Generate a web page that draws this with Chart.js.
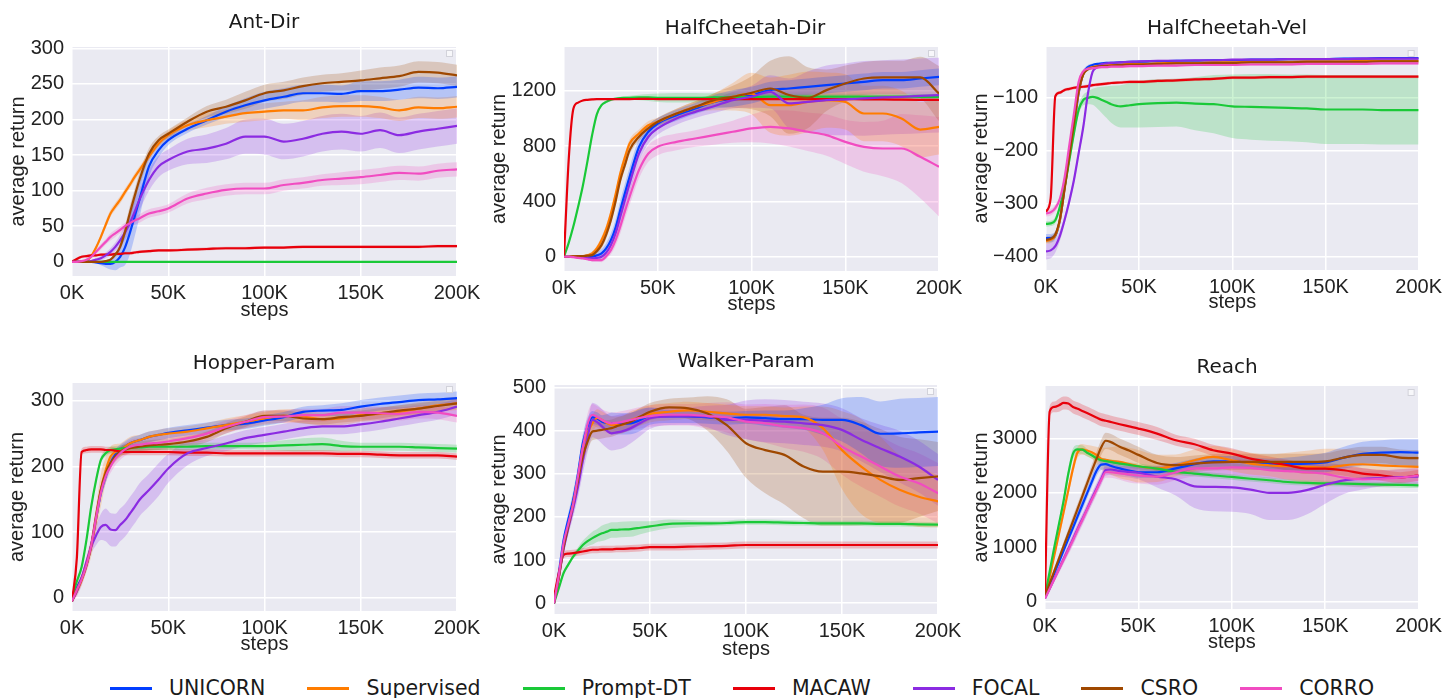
<!DOCTYPE html>
<html><head><meta charset="utf-8">
<script src="https://cdn.jsdelivr.net/npm/chart.js@4.4.1/dist/chart.umd.min.js"></script>
<style>
html,body{margin:0;padding:0;background:#fff;}
#wrap{position:relative;width:1447px;height:698px;overflow:hidden;background:#fff;}
#wrap canvas{position:absolute;}
.ttl{position:absolute;font-family:"DejaVu Sans";font-size:20px;line-height:24px;color:#1a1a1a;white-space:nowrap;transform:translateX(-50%);}
#legend{position:absolute;left:110px;top:676px;height:24px;display:flex;align-items:center;font-family:"DejaVu Sans";font-size:20.5px;color:#1a1a1a;white-space:nowrap;}
.li{display:flex;align-items:center;margin-right:42px;}
.ln{width:42px;height:3px;margin-right:17px;}
</style></head><body><div id="wrap"><div id="legend"></div></div>
<script>
// ---------- shared axes / series ----------
const STEPS = [0,2.5,5,7.5,10,12.5,15,17.5,20,22.5,25,27.5,30,32.5,35,40,45,50,60,70,80,90,100,110,120,130,140,150,160,170,180,190,200]; // thousands of steps
const X_TICKS = [0,50,100,150,200];
const SERIES = ['UNICORN','Supervised','Prompt-DT','MACAW','FOCAL','CSRO','CORRO'];
const COLORS = ['#023eff','#ff7c00','#1ac938','#e8000b','#8b2be2','#9f4800','#f14cc1'];

// ---------- Ant-Dir ----------
const antTicks = [0,50,100,150,200,250,300];
const antUNICORN = [0,0,0,0,0,-1,-2,-3,-3,0,7,20,40,63,87,134,157,171,187,199,211,220,227,232,237,237,236,240,240,242,245,244,246];
const antUNICORNsd = [0,0,0,0,0,1,3,5,8,12,15,25,30,28,25,15,10,7,6,6,8,10,12,12,12,12,12,14,14,14,15,15,15];
const antSupervised = [0,0,0,1,8,20,35,52,68,78,87,98,108,119,129,148,166,178,192,199,204,209,211,213,213,217,219,219,217,213,217,216,218];
const antSupervisedsd = [0,0,0,1,2,3,4,5,5,5,5,5,5,5,5,5,5,6,8,10,10,12,12,12,14,15,15,15,15,15,15,15,15];
const antPromptDT = [0,0,0,0,0,0,0,0,0,0,0,0,0,0,0,0,0,0,0,0,0,0,0,0,0,0,0,0,0,0,0,0,0];
const antPromptDTsd = [0,0,0,0,0,0,0,0,0,0,0,0,0,0,0,0,0,0,0,0,0,0,0,0,0,0,0,0,0,0,0,0,0];
const antMACAW = [0,4,7,8,9,9,10,10,10,11,11,12,12,13,14,15,16,16,17,18,19,19,20,20,21,21,21,21,21,21,21,22,22];
const antMACAWsd = [0,2,2,2,2,2,2,2,2,2,2,2,2,2,2,2,2,2,2,2,2,2,2,2,2,2,2,2,2,2,2,2,2];
const antFOCAL = [0,0,0,0,1,3,5,9,14,21,30,41,54,70,87,115,134,143,155,159,166,176,176,169,173,180,183,180,185,178,183,187,191];
const antFOCALsd = [0,0,0,0,1,2,3,4,5,6,8,10,12,14,15,15,15,15,18,20,22,24,25,25,25,25,25,25,25,25,25,25,25];
const antCSRO = [0,0,0,0,0,0,0,1,3,10,21,42,68,92,115,152,171,180,197,211,218,227,237,241,247,251,253,255,258,261,267,266,262];
const antCSROsd = [0,0,0,0,0,0,0,1,2,3,5,8,10,10,10,8,6,6,6,8,10,12,12,12,12,12,12,14,15,15,15,15,15];
const antCORRO = [0,0,1,3,7,14,21,28,35,40,45,50,54,58,61,68,71,75,89,96,101,103,103,108,111,115,117,119,122,125,124,128,130];
const antCORROsd = [0,0,1,1,2,3,4,4,5,5,5,5,5,6,6,6,6,6,7,8,8,8,8,8,8,8,9,10,10,10,10,10,10];

// ---------- HalfCheetah-Dir ----------
const hcdTicks = [0,400,800,1200];
const hcdUNICORN = [0,0,0,0,-5,-5,0,10,24,60,120,210,337,460,578,795,904,964,1024,1072,1120,1145,1169,1205,1217,1229,1241,1253,1265,1277,1277,1289,1301];
const hcdUNICORNsd = [0,0,0,0,10,15,20,25,30,40,50,60,70,70,70,60,50,40,40,40,50,60,60,60,60,60,60,60,60,60,60,60,60];
const hcdSupervised = [0,0,5,5,5,10,24,60,120,200,313,450,602,720,819,891,951,976,1036,1084,1120,1157,1180,1096,1096,1120,1133,1120,1036,1036,1000,920,940];
const hcdSupervisedsd = [0,0,0,0,5,10,15,20,25,30,30,30,30,30,30,30,30,30,35,40,60,100,150,200,220,220,200,200,200,200,200,200,200];
const hcdPromptDT = [0,100,220,360,510,690,880,1030,1096,1120,1135,1143,1148,1149,1150,1152,1152,1150,1150,1150,1152,1155,1155,1158,1158,1158,1158,1158,1158,1158,1158,1157,1157];
const hcdPromptDTsd = [0,10,15,20,20,20,20,15,10,10,10,10,10,12,15,20,25,30,35,35,30,25,25,20,20,20,20,20,20,20,20,20,20];
const hcdMACAW = [0,700,1070,1115,1130,1135,1138,1140,1140,1140,1140,1140,1140,1140,1140,1142,1142,1140,1140,1140,1140,1140,1140,1140,1140,1140,1140,1140,1138,1138,1136,1135,1135];
const hcdMACAWsd = [0,6,6,6,6,6,6,6,6,6,6,6,6,6,6,6,6,6,6,6,6,6,6,6,6,6,6,6,6,6,6,6,6];
const hcdFOCAL = [0,0,0,-2,-5,-10,-12,-8,0,30,84,170,289,410,530,747,868,928,1000,1048,1089,1133,1157,1193,1109,1120,1133,1138,1145,1152,1157,1164,1169];
const hcdFOCALsd = [0,0,0,5,10,15,20,25,30,40,50,60,70,70,70,60,50,45,45,45,50,60,80,120,180,220,250,260,270,270,270,270,270];
const hcdCSRO = [0,0,3,5,5,8,12,40,84,160,265,400,554,665,771,868,928,976,1036,1084,1133,1157,1186,1217,1170,1150,1205,1253,1289,1297,1297,1297,1180];
const hcdCSROsd = [0,0,0,0,5,10,15,20,25,30,30,30,30,30,30,30,30,30,35,40,50,80,120,200,280,220,150,130,120,120,120,150,200];
const hcdCORRO = [0,0,-3,-8,-12,-18,-24,-25,-24,5,48,120,217,330,434,627,747,795,831,855,880,904,928,940,928,904,880,831,795,783,783,723,651];
const hcdCORROsd = [0,0,0,5,5,5,10,10,15,20,30,40,50,55,60,60,60,60,60,60,70,80,100,120,130,140,150,160,180,200,250,300,360];

// ---------- HalfCheetah-Vel ----------
const hcvTicks = [-400,-300,-200,-100];
const hcvUNICORN = [-365,-365,-360,-330,-268,-205,-155,-92,-54,-42,-38,-36,-35,-34,-34,-33,-32,-32,-31,-30,-30,-29,-29,-28,-28,-27,-27,-27,-26,-26,-25,-25,-25];
const hcvUNICORNsd = [8,8,8,8,8,8,8,6,5,4,3,2,2,2,2,2,2,2,2,2,2,2,2,2,2,2,2,2,2,2,2,2,2];
const hcvSupervised = [-370,-368,-360,-330,-270,-210,-150,-90,-55,-45,-42,-40,-39,-38,-38,-37,-36,-36,-35,-34,-34,-33,-33,-32,-32,-32,-31,-31,-31,-30,-30,-30,-30];
const hcvSupervisedsd = [6,6,6,6,6,6,6,5,4,3,3,2,2,2,2,2,2,2,2,2,2,2,2,2,2,2,2,2,2,2,2,2,2];
const hcvPromptDT = [-338,-337,-331,-305,-268,-218,-167,-123,-104,-100,-98,-100,-104,-108,-112,-116,-114,-112,-110,-109,-111,-112,-116,-117,-118,-119,-120,-122,-122,-122,-123,-123,-123];
const hcvPromptDTsd = [5,5,6,8,10,10,10,10,10,12,15,20,25,30,35,40,42,44,45,45,50,55,60,62,63,63,64,65,65,65,65,65,65];
const hcvMACAW = [-315,-290,-97,-90,-85,-83,-81,-80,-79,-78,-76,-75,-74,-73,-72,-71,-70,-70,-68,-67,-65,-64,-62,-62,-61,-61,-60,-60,-60,-60,-60,-60,-60];
const hcvMACAWsd = [3,3,3,3,3,3,3,3,3,3,3,3,3,3,3,3,3,3,3,3,3,3,3,3,3,3,3,3,3,3,3,3,3];
const hcvFOCAL = [-390,-388,-380,-360,-330,-295,-255,-205,-155,-92,-51,-42,-36,-35,-34,-33,-32,-31,-30,-30,-29,-29,-28,-28,-28,-27,-27,-27,-27,-26,-26,-26,-26];
const hcvFOCALsd = [15,15,12,10,8,8,8,8,8,6,4,3,2,2,2,2,2,2,2,2,2,2,2,2,2,2,2,2,2,2,2,2,2];
const hcvCSRO = [-368,-366,-358,-328,-272,-210,-148,-88,-56,-46,-43,-41,-40,-40,-39,-38,-37,-37,-36,-35,-35,-34,-34,-33,-33,-33,-32,-32,-32,-32,-31,-31,-31];
const hcvCSROsd = [6,6,6,6,6,6,6,5,4,3,3,2,2,2,2,2,2,2,2,2,2,2,2,2,2,2,2,2,2,2,2,2,2];
const hcvCORRO = [-318,-316,-308,-290,-250,-190,-130,-70,-50,-45,-44,-43,-42,-42,-41,-41,-40,-40,-39,-39,-38,-38,-38,-37,-37,-37,-36,-36,-36,-36,-35,-35,-35];
const hcvCORROsd = [6,6,6,6,6,6,6,5,4,3,3,2,2,2,2,2,2,2,2,2,2,2,2,2,2,2,2,2,2,2,2,2,2];

// ---------- Hopper-Param ----------
const hopTicks = [0,100,200,300];
const hopUNICORN = [-5,15,30,50,80,120,160,185,205,218,225,230,235,238,240,245,248,251,255,259,263,265,270,275,283,285,286,291,295,298,301,302,304];
const hopUNICORNsd = [0,3,5,8,10,10,10,10,8,8,8,8,8,8,8,8,8,8,8,8,8,8,8,8,8,8,10,10,10,10,10,10,10];
const hopSupervised = [-5,10,27,50,78,120,164,194,215,222,225,230,235,238,240,245,248,250,253,258,263,268,273,277,276,272,273,278,280,283,288,293,296];
const hopSupervisedsd = [0,3,5,10,15,20,25,20,15,12,10,10,10,9,8,8,8,8,8,8,10,10,10,10,10,10,10,10,10,10,10,10,10];
const hopPromptDT = [0,25,47,88,139,179,210,220,225,226,227,228,229,229,229,230,230,230,230,231,231,231,231,232,233,234,231,230,230,230,229,228,227];
const hopPromptDTsd = [0,3,5,5,5,5,5,5,5,5,5,5,5,5,5,5,5,5,5,5,5,5,6,8,10,10,8,6,6,6,6,6,6];
const hopMACAW = [-5,60,222,225,226,226,226,225,225,224,223,222,222,222,222,222,222,222,221,221,220,220,220,220,220,220,219,219,218,217,217,217,215];
const hopMACAWsd = [0,5,5,5,5,5,5,5,5,5,5,5,5,5,5,5,5,5,5,5,5,5,5,5,5,5,5,5,5,5,5,5,5];
const hopFOCAL = [-5,10,30,55,78,95,108,111,104,103,111,118,128,138,149,164,180,197,220,228,235,243,248,253,258,261,261,264,268,273,278,283,291];
const hopFOCALsd = [0,3,5,8,10,15,20,25,25,25,25,25,25,25,25,25,25,22,18,12,12,12,12,12,12,12,12,12,12,12,12,12,12];
const hopCSRO = [-5,12,28,50,80,125,165,190,205,215,222,226,228,229,230,232,233,234,238,245,258,268,277,277,273,272,275,277,281,285,288,292,296];
const hopCSROsd = [0,8,8,8,8,8,8,8,8,8,8,8,8,8,8,8,8,8,8,8,8,8,8,8,8,8,8,8,8,8,8,8,8];
const hopCORRO = [-5,12,28,50,80,122,160,185,200,212,220,226,230,232,233,235,236,238,243,250,260,268,275,276,278,278,282,282,281,280,283,282,277];
const hopCORROsd = [0,10,10,10,10,10,10,10,10,10,10,10,10,10,10,10,10,10,10,10,10,10,10,10,10,10,10,10,10,10,10,10,10];

// ---------- Walker-Param ----------
const wlkTicks = [0,100,200,300,400,500];
const wlkUNICORN = [0,70,147,195,240,300,371,410,431,428,421,418,417,416,416,417,425,434,433,433,431,429,431,429,427,427,425,425,413,393,394,396,398];
const wlkUNICORNsd = [0,5,10,15,20,20,20,20,15,15,15,20,25,25,25,25,25,20,15,15,15,15,15,18,20,25,35,50,65,75,80,80,80];
const wlkSupervised = [0,60,130,180,230,290,360,395,417,430,425,418,413,413,413,425,432,439,444,447,444,440,437,437,434,431,406,355,317,286,263,247,236];
const wlkSupervisedsd = [0,5,10,15,20,20,20,20,20,20,20,20,20,20,20,20,20,20,20,20,20,20,20,20,20,25,50,90,110,100,80,70,60];
const wlkPromptDT = [0,35,70,90,108,122,135,144,151,157,162,166,170,170,171,172,175,178,184,185,185,186,188,188,187,186,185,185,185,184,184,183,182];
const wlkPromptDTsd = [0,3,5,5,5,8,10,12,15,15,18,18,18,18,18,18,15,12,10,8,6,6,6,6,6,6,6,6,6,6,6,6,6];
const wlkMACAW = [15,70,112,115,116,118,120,122,124,124,125,125,125,126,126,127,128,130,130,131,132,133,135,135,135,135,135,135,135,135,135,135,135];
const wlkMACAWsd = [3,5,8,8,8,8,8,8,8,8,8,8,8,8,8,8,8,8,8,8,8,8,8,8,8,8,8,8,8,8,8,8,8];
const wlkFOCAL = [0,60,125,175,220,270,330,385,425,420,410,400,394,396,398,406,418,429,433,434,433,425,425,423,421,417,413,402,379,359,340,317,286];
const wlkFOCALsd = [0,5,10,15,20,25,30,35,40,40,40,40,40,40,40,35,30,25,20,20,25,35,45,50,50,50,50,50,50,55,60,60,60];
const wlkCSRO = [0,60,130,180,230,285,340,375,398,400,402,404,406,410,414,421,433,444,454,452,440,413,371,355,344,317,305,305,301,294,286,290,294];
const wlkCSROsd = [0,5,10,15,20,20,20,20,20,20,20,20,20,20,20,20,20,20,20,25,40,60,80,100,115,120,125,125,120,110,100,90,80];
const wlkCORRO = [0,65,140,185,230,295,360,415,437,432,425,420,417,418,420,425,430,434,437,437,434,431,421,417,410,406,394,363,340,317,294,278,255];
const wlkCORROsd = [0,5,10,15,20,20,20,25,25,25,25,25,25,25,25,25,25,25,25,25,30,35,40,45,50,55,60,65,70,70,70,70,70];

// ---------- Reach ----------
const rchTicks = [0,1000,2000,3000];
const rchUNICORN = [100,310,520,730,940,1150,1360,1570,1780,1990,2200,2400,2520,2530,2500,2450,2410,2380,2380,2450,2530,2580,2580,2550,2530,2530,2540,2560,2650,2720,2740,2750,2740];
const rchUNICORNsd = [0,50,50,60,60,70,80,90,100,100,100,100,100,100,100,100,100,100,100,100,100,100,100,100,100,120,150,180,200,220,230,240,250];
const rchSupervised = [100,450,850,1250,1650,2050,2450,2750,2800,2780,2750,2700,2630,2610,2590,2570,2530,2490,2450,2508,2600,2662,2600,2539,2508,2490,2478,2465,2508,2527,2508,2490,2478];
const rchSupervisedsd = [0,50,60,80,100,100,100,100,100,100,120,150,200,220,250,300,300,300,250,200,200,200,200,200,200,250,300,350,300,250,200,200,200];
const rchPromptDT = [100,550,1000,1430,1860,2355,2724,2800,2797,2740,2693,2640,2600,2585,2570,2539,2515,2490,2447,2385,2355,2320,2293,2260,2232,2200,2183,2175,2170,2160,2152,2145,2139];
const rchPromptDTsd = [0,50,60,80,100,100,100,80,80,70,60,50,50,50,50,50,50,50,50,50,50,50,50,50,50,50,50,50,50,50,50,50,50];
const rchMACAW = [100,3500,3584,3615,3658,3646,3584,3550,3510,3470,3430,3390,3350,3330,3308,3265,3225,3185,3092,2969,2896,2785,2724,2631,2570,2508,2447,2447,2416,2355,2324,2281,2324];
const rchMACAWsd = [0,100,100,120,120,120,120,120,120,120,120,120,120,120,120,120,120,120,120,100,100,100,100,100,100,100,100,100,100,100,100,100,100];
const rchFOCAL = [50,235,420,600,785,970,1150,1340,1520,1700,1890,2070,2250,2420,2430,2400,2385,2370,2300,2250,2120,2110,2100,2060,2000,2000,2050,2150,2230,2260,2270,2290,2300];
const rchFOCALsd = [0,50,60,70,80,90,100,100,100,100,100,100,100,100,100,100,100,120,200,300,400,450,450,450,500,500,450,350,250,200,150,150,150];
const rchCSRO = [100,330,560,790,1020,1250,1480,1710,1940,2170,2400,2620,2830,2960,2940,2850,2780,2700,2550,2510,2540,2560,2570,2570,2570,2570,2570,2580,2650,2700,2700,2650,2640];
const rchCSROsd = [0,50,60,70,80,90,100,100,100,100,120,130,140,150,150,150,150,150,150,150,150,150,150,150,150,150,150,150,150,150,150,150,150];
const rchCORRO = [50,230,410,590,770,950,1130,1320,1500,1690,1870,2050,2230,2380,2380,2360,2340,2320,2300,2380,2450,2450,2470,2460,2420,2400,2380,2350,2280,2250,2260,2280,2320];
const rchCORROsd = [0,50,60,70,80,90,100,100,100,100,100,100,100,100,100,120,150,150,150,150,150,150,150,150,150,150,150,150,150,150,150,150,150];

// ---------- panel layout ----------
const PANELS = [
  {title:'Ant-Dir', ticks:antTicks, yMin:-20, yMax:302,
   means:[antUNICORN,antSupervised,antPromptDT,antMACAW,antFOCAL,antCSRO,antCORRO],
   sds:[antUNICORNsd,antSupervisedsd,antPromptDTsd,antMACAWsd,antFOCALsd,antCSROsd,antCORROsd],
   cl:0, ct:20, L:72, R:457, T:47, B:276, padR:30, titleX:264, titleY:20.5, yTitleX:18, xTitleY:310.5},
  {title:'HalfCheetah-Dir', ticks:hcdTicks, yMin:-103, yMax:1517,
   means:[hcdUNICORN,hcdSupervised,hcdPromptDT,hcdMACAW,hcdFOCAL,hcdCSRO,hcdCORRO],
   sds:[hcdUNICORNsd,hcdSupervisedsd,hcdPromptDTsd,hcdMACAWsd,hcdFOCALsd,hcdCSROsd,hcdCORROsd],
   cl:480, ct:20, L:564, R:939, T:47, B:271, padR:30, titleX:745, titleY:27, yTitleX:499, xTitleY:304},
  {title:'HalfCheetah-Vel', ticks:hcvTicks, yMin:-425, yMax:-4,
   means:[hcvUNICORN,hcvSupervised,hcvPromptDT,hcvMACAW,hcvFOCAL,hcvCSRO,hcvCORRO],
   sds:[hcvUNICORNsd,hcvSupervisedsd,hcvPromptDTsd,hcvMACAWsd,hcvFOCALsd,hcvCSROsd,hcvCORROsd],
   cl:960, ct:20, L:1046, R:1420, T:47, B:270, padR:27, titleX:1227, titleY:27, yTitleX:981, xTitleY:302.5},
  {title:'Hopper-Param', ticks:hopTicks, yMin:-20, yMax:327,
   means:[hopUNICORN,hopSupervised,hopPromptDT,hopMACAW,hopFOCAL,hopCSRO,hopCORRO],
   sds:[hopUNICORNsd,hopSupervisedsd,hopPromptDTsd,hopMACAWsd,hopFOCALsd,hopCSROsd,hopCORROsd],
   cl:0, ct:340, L:72, R:457, T:383, B:611, padR:30, titleX:264, titleY:362, yTitleX:17, xTitleY:644},
  {title:'Walker-Param', ticks:wlkTicks, yMin:-25, yMax:506,
   means:[wlkUNICORN,wlkSupervised,wlkPromptDT,wlkMACAW,wlkFOCAL,wlkCSRO,wlkCORRO],
   sds:[wlkUNICORNsd,wlkSupervisedsd,wlkPromptDTsd,wlkMACAWsd,wlkFOCALsd,wlkCSROsd,wlkCORROsd],
   cl:480, ct:340, L:554, R:938, T:385, B:614, padR:30, titleX:746, titleY:359.7, yTitleX:499, xTitleY:649},
  {title:'Reach', ticks:rchTicks, yMin:-142, yMax:3970,
   means:[rchUNICORN,rchSupervised,rchPromptDT,rchMACAW,rchFOCAL,rchCSRO,rchCORRO],
   sds:[rchUNICORNsd,rchSupervisedsd,rchPromptDTsd,rchMACAWsd,rchFOCALsd,rchCSROsd,rchCORROsd],
   cl:960, ct:340, L:1045, R:1420, T:386, B:609, padR:27, titleX:1227, titleY:365.5, yTitleX:981, xTitleY:642.5}
];

function rgba(hex, a){
  const n = parseInt(hex.slice(1),16);
  return 'rgba('+((n>>16)&255)+','+((n>>8)&255)+','+(n&255)+','+a+')';
}
function fmt(v){ return v < 0 ? '\u2212' + Math.abs(v) : String(v); }

const bgPlugin = {
  id:'plotbg',
  beforeDraw(chart){
    const a = chart.chartArea, ctx = chart.ctx;
    ctx.save(); ctx.fillStyle = '#eaeaf2';
    ctx.fillRect(a.left, a.top, a.right - a.left, a.bottom - a.top);
    ctx.restore();
  },
  afterDraw(chart){
    const a = chart.chartArea, ctx = chart.ctx;
    ctx.save(); ctx.fillStyle = 'rgba(255,255,255,0.6)'; ctx.strokeStyle = '#d2d2da'; ctx.lineWidth = 1;
    ctx.fillRect(a.right - 10.5, a.top + 3.5, 6, 6);
    ctx.strokeRect(a.right - 10.5, a.top + 3.5, 6, 6);
    ctx.restore();
  }
};

const wrap = document.getElementById('wrap');
const TICK_FONT = {family:'"Liberation Sans", Arial, sans-serif', size:20};

PANELS.forEach(p => {
  const bottom = Math.ceil(p.xTitleY + 16);
  const width = p.R + p.padR - p.cl;
  const height = bottom - p.ct;
  const cv = document.createElement('canvas');
  cv.width = width; cv.height = height;
  cv.style.left = p.cl + 'px'; cv.style.top = p.ct + 'px';
  cv.style.width = width + 'px'; cv.style.height = height + 'px';
  wrap.appendChild(cv);

  const t = document.createElement('div');
  t.className = 'ttl'; t.textContent = p.title;
  t.style.left = p.titleX + 'px'; t.style.top = (p.titleY - 12) + 'px';
  wrap.appendChild(t);

  const ds = [];
  SERIES.forEach((name, i) => {
    const m = p.means[i], s = p.sds[i];
    ds.push({data: STEPS.map((x,k)=>({x, y:m[k]-s[k]})), borderWidth:0, borderColor:'rgba(0,0,0,0)',
             pointRadius:0, fill:false, order:100, cubicInterpolationMode:'monotone'});
    ds.push({data: STEPS.map((x,k)=>({x, y:m[k]+s[k]})), borderWidth:0, borderColor:'rgba(0,0,0,0)',
             pointRadius:0, fill:'-1', backgroundColor: rgba(COLORS[i], 0.22), order:100, cubicInterpolationMode:'monotone'});
  });
  SERIES.forEach((name, i) => {
    ds.push({label:name, data: STEPS.map((x,k)=>({x, y:p.means[i][k]})), borderColor:COLORS[i],
             backgroundColor:COLORS[i], borderWidth:2.2, pointRadius:0, fill:false, order: 7 - i,
             cubicInterpolationMode:'monotone'});
  });

  new Chart(cv, {
    type:'line',
    data:{datasets: ds},
    plugins:[bgPlugin],
    options:{
      responsive:false, animation:false, devicePixelRatio:1,
      layout:{padding:{left:0, right:p.padR, top:p.T - p.ct, bottom:0}},
      plugins:{legend:{display:false}, tooltip:{enabled:false}, title:{display:false},
               filler:{propagate:false, drawTime:'beforeDatasetsDraw'}},
      scales:{
        x:{type:'linear', min:0, max:200,
           afterBuildTicks: s => { s.ticks = X_TICKS.map(v => ({value:v})); },
           afterFit: s => { s.height = bottom - p.B; },
           grid:{color:'#ffffff', lineWidth:1.5, drawTicks:false},
           border:{display:false},
           ticks:{font:TICK_FONT, color:'#222', padding:5, maxRotation:0, autoSkip:false, callback: v => v + 'K'},
           title:{display:true, text:'steps', font:TICK_FONT, color:'#222', padding:{top:0, bottom: bottom - 12 - p.xTitleY}}},
        y:{type:'linear', min:p.yMin, max:p.yMax,
           afterBuildTicks: s => { s.ticks = p.ticks.map(v => ({value:v})); },
           afterFit: s => { s.width = p.L - p.cl; },
           grid:{color:'#ffffff', lineWidth:1.5, drawTicks:false},
           border:{display:false},
           ticks:{font:TICK_FONT, color:'#222', padding:8, callback: v => fmt(v)},
           title:{display:true, text:'average return', font:TICK_FONT, color:'#222', padding:{top: p.yTitleX - p.cl - 12, bottom:0}}}
      }
    }
  });
});

// legend
const lg = document.getElementById('legend');
SERIES.forEach((name, i) => {
  const it = document.createElement('div'); it.className = 'li';
  if (i === SERIES.length - 1) it.style.marginRight = '0';
  const ln = document.createElement('span'); ln.className = 'ln'; ln.style.background = COLORS[i];
  const tx = document.createElement('span'); tx.textContent = name;
  it.appendChild(ln); it.appendChild(tx); lg.appendChild(it);
});
</script>
</body></html>
